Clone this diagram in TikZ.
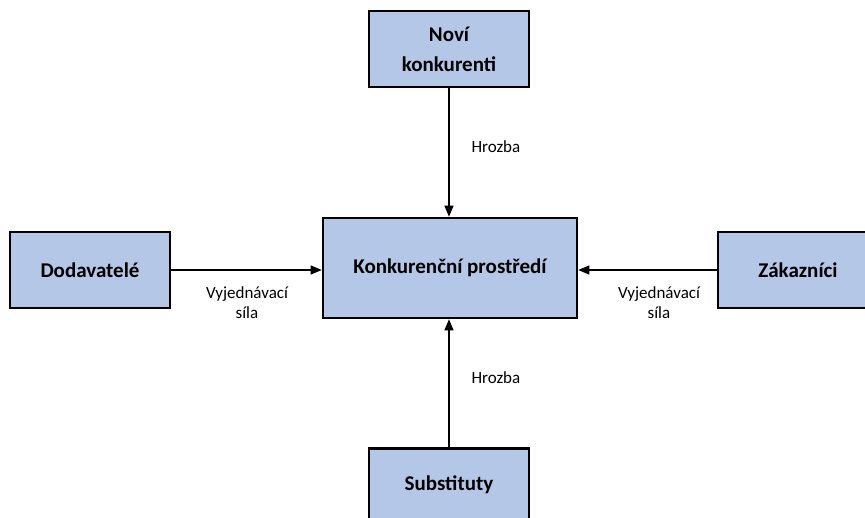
\documentclass[tikz,border=0pt]{standalone}
\usepackage{fontspec}
\setmainfont{Carlito}
\usetikzlibrary{arrows}
\definecolor{boxblue}{RGB}{180,199,231}

\begin{document}
\begin{tikzpicture}[x=1pt,y=1pt,
    force/.style={draw=black,line width=2.6pt,fill=boxblue,minimum width=160pt,
      minimum height=76pt,align=center,font=\fontsize{21}{30}\selectfont\bfseries},
    pull/.style={line width=1.6pt,-triangle 45},
    tag/.style={font=\fontsize{17}{20}\selectfont,align=center}]
  \useasboundingbox (0,0) rectangle (865,517);
  \clip (0,0) rectangle (865,517);
  % boxes
  \node[force] (novi) at (449,468) {Noví\\konkurenti};
  \node[force,minimum width=254pt,minimum height=100pt] (prostredi) at (450,249) {Konkurenční prostředí};
  \node[force] (dodavatele) at (90,247) {Dodavatelé};
  \node[force] (zakaznici) at (798,247) {Zákazníci};
  \node[force,anchor=north] (substituty) at (449,70) {};
  \node[font=\fontsize{21}{30}\selectfont\bfseries] (substext) at (449,32) {Substituty};
  % arrows
  \draw[pull] (novi.south) -- (novi.south |- prostredi.north);
  \draw[pull] (substituty.north) -- (substituty.north |- prostredi.south);
  \draw[pull] (dodavatele.east) -- (dodavatele.east -| prostredi.west);
  \draw[pull] (zakaznici.west) -- (zakaznici.west -| prostredi.east);
  % labels
  \node[tag,anchor=west] (hrozba1) at (468,370) {Hrozba};
  \node[tag,anchor=west] (hrozba2) at (468,139) {Hrozba};
  \node[tag] (sila1) at (247,214) {Vyjednávací\\síla};
  \node[tag] (sila2) at (659,214) {Vyjednávací\\síla};
\end{tikzpicture}
\end{document}
